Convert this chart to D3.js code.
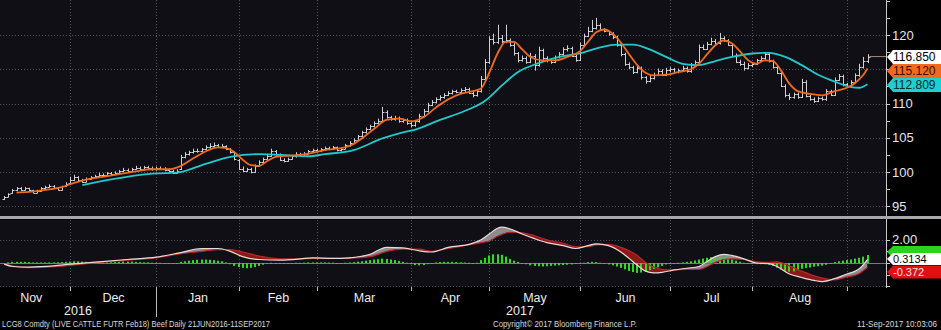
<!DOCTYPE html>
<html><head><meta charset="utf-8">
<script src="https://cdn.jsdelivr.net/npm/d3@7"></script>
<style>
html,body{margin:0;padding:0;background:#000;}
svg{display:block;}
text{font-family:"Liberation Sans",Arial,sans-serif;}
</style></head><body>
<svg id="c" width="941" height="330"></svg>
<script>
// ---------------- DATA ----------------
const startDate = "2016-11-08", endDate = "2017-09-11";
const holidays = ["2016-11-24","2016-12-26","2017-01-02","2017-01-16","2017-02-20","2017-04-14","2017-05-29","2017-07-04","2017-09-04"];
const monthNames = ["Jan","Feb","Mar","Apr","May","Jun","Jul","Aug","Sep","Oct","Nov","Dec"];

const opens = [
 96.1,96.4,96.9,97.3,97.6,97.4,97.6,97.3,97.0,97.2,97.6,97.8,98.0,97.6,97.4,97.9,
 98.4,98.9,99.3,98.8,98.6,99.0,99.2,99.4,99.6,99.5,99.8,99.7,99.9,100.1,100.3,100.2,100.4,100.6,100.5,100.7,100.6,
 100.4,100.6,100.5,100.3,100.1,99.9,100.4,102.2,102.6,102.9,103.1,103.0,103.3,103.6,103.8,103.9,103.7,103.8,103.4,102.9,
 101.8,100.5,100.2,100.4,100.0,100.9,101.5,101.9,102.3,103.0,102.6,101.8,101.6,101.9,102.3,102.6,102.4,102.7,103.0,
 103.2,103.1,103.3,103.5,103.4,103.6,103.2,103.4,103.9,104.3,104.7,105.2,105.8,106.3,106.7,107.2,107.5,108.8,108.0,107.7,107.9,107.4,107.6,
 107.1,106.8,107.4,108.2,108.9,109.8,110.2,110.6,110.9,111.3,111.5,111.8,111.7,111.9,112.1,111.6,111.2,111.8,113.6,
 116.0,119.4,119.0,119.6,119.1,119.2,118.6,117.3,116.4,116.7,116.1,117.0,115.6,117.8,116.6,116.3,116.1,116.8,117.2,117.9,118.1,117.0,
 116.4,118.6,119.9,120.6,121.0,121.4,120.9,120.6,120.2,119.7,118.6,117.2,115.8,115.3,114.6,115.2,113.8,113.3,113.7,114.2,114.8,114.2,
 114.9,115.0,114.6,114.9,115.2,114.7,115.6,116.0,118.3,118.0,118.7,119.1,118.8,119.5,119.2,118.6,117.0,116.1,115.8,115.2,
 115.6,115.8,116.3,116.6,117.2,116.2,115.3,114.5,112.6,111.2,110.9,111.4,111.0,113.2,111.1,110.7,110.4,110.8,110.6,111.8,111.3,113.5,114.0,
 112.8,112.6,113.1,114.1,115.4,116.2
];
const highs = [
 96.5,96.9,97.5,97.8,97.8,97.8,97.7,97.4,97.4,97.8,98.0,98.2,98.1,97.7,98.0,98.5,
 99.3,99.6,99.4,99.0,99.2,99.4,99.6,99.9,99.8,100.0,100.0,100.1,100.3,100.6,100.5,100.6,100.9,100.8,100.9,100.9,100.8,
 100.8,100.8,100.7,100.5,100.3,100.4,102.5,102.9,103.1,103.4,103.4,103.5,103.9,104.2,104.3,104.1,104.1,103.9,103.5,103.0,
 101.9,100.8,100.6,100.6,101.1,101.7,102.1,102.6,103.4,103.2,102.7,102.0,102.1,102.5,102.9,102.8,102.9,103.2,103.4,
 103.4,103.5,103.7,103.7,103.8,103.7,103.6,104.1,104.5,104.9,105.4,106.0,106.5,106.9,107.4,107.8,109.5,109.0,108.2,108.2,108.1,107.8,107.8,
 107.3,107.6,108.5,109.2,110.1,110.5,110.9,111.2,111.5,111.8,112.0,112.0,112.2,112.4,112.3,111.8,112.0,114.0,116.5,
 119.8,120.2,121.5,120.0,121.5,119.5,118.8,117.5,117.0,116.9,117.4,117.2,118.3,118.0,116.9,116.5,117.0,117.5,118.2,118.5,118.3,117.2,
 118.9,120.2,121.2,122.2,122.5,121.7,121.0,120.6,120.4,119.9,118.8,117.4,116.0,115.5,115.5,115.4,114.0,114.0,114.5,115.1,115.0,115.2,
 115.3,115.2,115.1,115.5,115.4,115.9,116.3,118.6,118.6,119.0,119.6,119.4,120.3,119.8,119.4,118.8,117.3,116.4,116.1,115.9,
 116.0,116.5,116.9,117.5,117.4,116.4,115.5,114.7,112.8,111.5,111.6,111.6,113.6,113.4,111.3,110.9,111.0,111.0,112.1,112.0,113.8,114.3,114.2,
 113.0,113.4,114.4,115.8,116.8,117.2
];
const lows = [
 95.9,96.3,96.8,97.2,97.2,97.3,97.2,96.9,96.9,97.1,97.5,97.7,97.5,97.3,97.3,97.8,
 98.3,98.7,98.6,98.4,98.5,98.9,99.1,99.3,99.3,99.4,99.5,99.6,99.8,100.0,100.0,100.1,100.3,100.3,100.4,100.4,100.2,
 100.2,100.3,100.1,99.9,99.7,99.8,100.3,102.0,102.4,102.7,102.8,102.8,103.1,103.4,103.6,103.5,103.5,103.2,102.7,101.7,
 100.3,100.0,100.0,99.8,99.9,100.8,101.3,101.8,102.2,102.4,101.6,101.4,101.5,101.8,102.1,102.2,102.3,102.6,102.8,
 102.9,102.9,103.1,103.2,103.2,103.0,103.0,103.3,103.7,104.1,104.5,105.0,105.6,106.1,106.5,107.0,107.3,107.8,107.5,107.5,107.2,107.2,106.9,
 106.5,106.6,107.2,108.0,108.7,109.6,110.0,110.4,110.7,111.1,111.3,111.5,111.5,111.7,111.4,110.9,111.0,111.6,113.4,
 115.8,118.6,118.7,118.8,118.8,118.3,117.0,116.0,116.1,115.8,115.9,114.8,115.4,116.3,116.0,115.8,115.9,116.6,117.0,117.6,116.8,116.1,
 116.2,118.4,119.7,120.4,120.8,120.6,120.4,119.9,119.4,118.3,116.9,115.5,115.0,114.3,114.4,113.5,112.9,113.1,113.5,114.0,114.0,114.0,
 114.6,114.3,114.4,114.7,114.5,114.5,115.4,115.9,117.8,117.8,118.5,118.6,118.6,119.0,118.4,116.8,115.9,115.5,114.8,115.0,
 115.3,115.6,116.1,116.4,116.0,115.1,114.3,112.4,110.9,110.5,110.7,110.7,110.8,110.9,110.4,110.1,110.2,110.4,110.4,111.1,111.1,113.3,112.5,
 112.3,112.4,112.9,113.9,115.1,115.9
];
const closes = [
 96.3,96.8,97.3,97.6,97.4,97.6,97.3,97.0,97.2,97.6,97.8,98.0,97.6,97.4,97.9,98.3,
 98.9,99.3,98.8,98.6,99.0,99.2,99.4,99.6,99.5,99.8,99.7,99.9,100.1,100.3,100.2,100.4,100.6,100.5,100.7,100.6,100.4,
 100.6,100.5,100.3,100.1,99.9,100.2,102.2,102.6,102.9,103.1,103.0,103.3,103.6,103.8,103.9,103.7,103.8,103.4,102.9,101.9,
 100.5,100.2,100.4,100.0,100.9,101.5,101.9,102.3,103.0,102.6,101.8,101.6,101.9,102.3,102.6,102.4,102.7,103.0,103.2,
 103.1,103.3,103.5,103.4,103.6,103.2,103.4,103.9,104.3,104.7,105.2,105.8,106.3,106.7,107.2,107.5,108.8,108.0,107.7,107.9,107.4,107.6,107.1,
 106.8,107.4,108.2,108.9,109.8,110.2,110.6,110.9,111.3,111.5,111.8,111.7,111.9,112.1,111.6,111.2,111.8,113.6,116.0,
 119.4,119.0,119.6,119.1,119.2,118.6,117.3,116.4,116.7,116.1,117.0,115.6,117.8,116.6,116.3,116.1,116.8,117.2,117.9,118.1,117.0,116.4,
 118.6,119.9,120.6,121.0,121.4,120.9,120.6,120.2,119.7,118.6,117.2,115.8,115.3,114.6,115.2,113.8,113.3,113.7,114.2,114.8,114.2,114.9,
 115.0,114.6,114.9,115.2,114.7,115.6,116.0,118.3,118.0,118.7,119.1,118.8,119.5,119.2,118.6,117.0,116.1,115.8,115.2,115.6,
 115.8,116.3,116.6,117.2,116.2,115.3,114.5,112.6,111.2,110.9,111.4,111.0,113.2,111.1,110.7,110.4,110.8,110.6,111.8,111.3,113.5,114.0,112.8,
 112.6,113.1,114.1,115.4,116.2,116.85
];

// Moving averages, read at sample bars (bar index)
const maFastIdx = [3,6,10,14,17,20,24,28,32,36,40,43,46,49,52,54,56,58,60,62,64,66,69,72,75,78,81,84,87,90,93,96,99,102,105,108,111,114,116,118,120,122,124,126,128,131,134,137,140,142,144,146,148,150,152,154,156,158,161,164,167,169,171,173,175,177,179,181,183,185,187,189,191,193,196,199,202,205,207,209,210];
const maFastVal = [97.0,97.1,97.4,97.8,98.4,98.9,99.3,99.7,100.1,100.4,100.4,100.9,102.0,103.0,103.6,103.5,102.9,101.8,101.0,100.9,101.6,102.2,102.4,102.5,102.8,103.2,103.4,103.8,104.9,106.3,107.6,107.8,107.4,108.0,109.4,110.6,111.4,111.8,112.2,114.5,117.3,119.0,119.0,117.9,116.8,116.3,116.3,116.8,117.6,119.0,120.4,120.8,120.2,118.9,117.2,115.6,114.5,114.1,114.2,114.6,115.0,115.8,117.2,118.5,119.2,118.8,117.6,116.3,115.8,116.3,116.2,114.8,112.9,111.8,111.4,111.2,111.8,112.3,113.0,114.2,115.12];
const maSlowIdx = [19,37,42,49,55,62,70,74,78,85,92,97,100,106,112,117,121,125,130,135,140,145,149,153,157,161,165,169,173,177,182,186,190,194,198,202,206,208,210];
const maSlowVal = [98.1,99.8,99.9,101.2,102.2,102.6,102.4,102.3,102.6,103.2,104.9,105.8,106.2,107.6,108.9,110.4,112.6,114.6,115.9,116.8,117.3,118.2,118.6,118.6,117.9,116.8,115.8,115.6,116.2,116.8,117.3,117.4,116.8,115.6,114.2,113.2,112.4,112.3,112.809];

// MACD panel
const macdIdx = [0,2,6,12,16,23,30,37,43,48,52,55,58,62,67,72,75,80,84,89,93,97,101,104,108,113,116,118,120,121,123,126,129,132,136,139,142,144,147,150,152,154,156,158,160,163,166,169,171,173,175,177,180,183,186,188,191,194,197,199,202,205,207,208,209,210];
const macdVal = [-0.1,-0.3,-0.35,-0.25,-0.1,0.1,0.3,0.5,0.9,1.25,1.25,1.0,0.55,0.3,0.25,0.35,0.45,0.4,0.45,0.75,1.35,1.3,1.05,0.95,1.35,1.6,2.0,2.5,3.0,3.1,2.95,2.5,2.1,1.75,1.5,1.25,1.5,1.65,1.5,0.95,0.4,-0.2,-0.7,-0.85,-0.8,-0.6,-0.45,-0.3,0.15,0.55,0.75,0.65,0.35,0.0,-0.05,-0.3,-0.95,-1.25,-1.5,-1.6,-1.35,-0.95,-0.7,-0.5,-0.15,0.3134];
const signalVal = [-0.05,-0.25,-0.4,-0.32,-0.2,0.05,0.25,0.45,0.8,1.0,1.15,1.15,0.95,0.6,0.35,0.35,0.4,0.4,0.42,0.55,1.0,1.2,1.2,1.0,1.25,1.55,1.75,1.9,2.3,2.45,2.65,2.6,2.35,2.0,1.7,1.4,1.4,1.55,1.6,1.35,1.05,0.65,0.05,-0.35,-0.55,-0.6,-0.55,-0.55,-0.3,0.05,0.3,0.35,0.3,0.1,0.05,0.1,-0.25,-0.7,-1.1,-1.3,-1.45,-1.2,-1.05,-0.9,-0.65,-0.372];
const histVal = [
 0.0,0.05,0.1,0.1,0.1,0.1,0.08,0.05,0.05,0.05,0.05,0.05,0.05,0.06,0.08,0.1,
 0.12,0.15,0.15,0.12,0.1,0.08,0.06,0.05,0.05,0.05,0.06,0.08,0.1,0.12,0.12,0.12,0.1,0.08,0.06,0.05,0.03,
 0.02,0.01,0.0,-0.02,-0.03,0.0,0.1,0.15,0.2,0.25,0.28,0.3,0.3,0.28,0.25,0.2,0.15,0.05,-0.1,-0.25,
 -0.35,-0.42,-0.45,-0.42,-0.35,-0.25,-0.15,-0.05,0.02,0.0,-0.05,-0.05,-0.03,0.0,0.02,0.02,0.03,0.05,0.05,
 0.05,0.05,0.05,0.04,0.03,0.0,0.0,0.02,0.05,0.08,0.12,0.15,0.2,0.25,0.3,0.33,0.38,0.35,0.3,0.25,0.18,0.1,0.02,
 -0.1,-0.18,-0.2,-0.18,-0.1,-0.02,0.05,0.08,0.1,0.1,0.1,0.08,0.06,0.04,0.02,0.0,0.02,0.25,0.45,
 0.65,0.75,0.75,0.7,0.55,0.35,0.2,0.1,0.0,-0.1,-0.2,-0.25,-0.28,-0.3,-0.28,-0.25,-0.22,-0.2,-0.18,-0.15,-0.12,-0.08,
 -0.05,0.02,0.08,0.1,0.08,0.02,-0.05,-0.12,-0.2,-0.3,-0.42,-0.55,-0.68,-0.78,-0.85,-0.82,-0.75,-0.62,-0.5,-0.38,-0.25,-0.12,
 -0.05,0.0,0.02,0.05,0.1,0.15,0.22,0.3,0.38,0.45,0.5,0.52,0.5,0.45,0.38,0.3,0.2,0.1,0.02,-0.05,
 -0.08,-0.1,-0.1,-0.1,-0.15,-0.25,-0.4,-0.55,-0.68,-0.75,-0.72,-0.62,-0.5,-0.42,-0.38,-0.32,-0.28,-0.22,-0.15,-0.05,0.08,0.15,0.2,
 0.25,0.3,0.38,0.45,0.55,0.69
];

const priceTicks = [95,100,105,110,115,120];
const priceMinorTicks = [95,97.5,100,102.5,105,107.5,110,112.5,115,117.5,120,122.5,125];
const macdTicks = [-2,-1,0,1,2];
const macdLabelTicks = [2];

const lastLabels = {close:"116.850", fast:"115.120", slow:"112.809", macd:"0.3134", signal:"-0.372"};

// --------------- DRAW ----------------
const svg = d3.select("#c");
const axisX = 886;
const topPanel = {y0:0, y1:216};
const botPanel = {y0:220, y1:287};

// trading dates
const parse = d3.timeParse("%Y-%m-%d"), fmt = d3.timeFormat("%Y-%m-%d");
const dates = [];
for (let d = parse(startDate); d <= parse(endDate); d = d3.timeDay.offset(d,1)) {
  const wd = d.getDay();
  if (wd===0||wd===6) continue;
  if (holidays.includes(fmt(d))) continue;
  dates.push(d);
}
const N = closes.length;

const x = d3.scaleLinear().domain([0, N-1]).range([4.2, 867.5]);
const y = d3.scaleLinear().domain([95,120]).range([206.25,35]);
const yM = d3.scaleLinear().domain([-2,2]).range([286.2,239.8]);

// backgrounds
svg.append("rect").attr("x",0).attr("y",0).attr("width",941).attr("height",330).attr("fill","#000");
svg.append("rect").attr("x",0).attr("y",topPanel.y0).attr("width",axisX).attr("height",topPanel.y1-topPanel.y0).attr("fill","#0f0f15");
svg.append("rect").attr("x",0).attr("y",botPanel.y0).attr("width",axisX).attr("height",botPanel.y1-botPanel.y0).attr("fill","#0f0f15");

const defs = svg.append("defs");
defs.append("clipPath").attr("id","clipTop").append("rect").attr("x",0).attr("y",0).attr("width",axisX).attr("height",topPanel.y1);
defs.append("clipPath").attr("id","clipBot").append("rect").attr("x",0).attr("y",botPanel.y0).attr("width",axisX).attr("height",botPanel.y1-botPanel.y0);

// month boundaries
const monthStarts = [];
dates.forEach((d,i)=>{ if(i>0 && d.getMonth()!==dates[i-1].getMonth()) monthStarts.push(i); });
const gx = i => Math.round(x(i))+0.5;

// gridlines
const grid = svg.append("g").attr("stroke","#55555c").attr("stroke-width",1).attr("stroke-dasharray","1,2");
priceTicks.forEach(v=>{
  grid.append("line").attr("x1",0).attr("x2",axisX).attr("y1",Math.round(y(v))+0.5).attr("y2",Math.round(y(v))+0.5);
});
monthStarts.forEach(i=>{
  grid.append("line").attr("x1",gx(i)).attr("x2",gx(i)).attr("y1",topPanel.y0).attr("y2",topPanel.y1);
  grid.append("line").attr("x1",gx(i)).attr("x2",gx(i)).attr("y1",botPanel.y0).attr("y2",botPanel.y1);
});
[2,-2].forEach(v=>{
  grid.append("line").attr("x1",0).attr("x2",axisX).attr("y1",Math.round(yM(v))+0.5).attr("y2",Math.round(yM(v))+0.5);
});

// price bars
const topG = svg.append("g").attr("clip-path","url(#clipTop)");
const bars = topG.append("g").attr("stroke","#cfcfd4").attr("stroke-width",1).attr("fill","none");
closes.forEach((c,i)=>{
  const cx = Math.round(x(i))+0.5;
  bars.append("path").attr("d",
    `M${cx},${y(highs[i])}V${y(lows[i])}M${cx-2},${Math.round(y(opens[i]))+0.5}H${cx}M${cx},${Math.round(y(c))+0.5}H${cx+2}`);
});

// moving averages
const maLine = d3.line().x(d=>x(d[0])).y(d=>y(d[1])).curve(d3.curveMonotoneX);
topG.append("path").datum(maSlowIdx.map((k,j)=>[k,maSlowVal[j]]))
  .attr("d",maLine).attr("fill","none").attr("stroke","#1fc9cc").attr("stroke-width",1.8);
topG.append("path").datum(maFastIdx.map((k,j)=>[k,maFastVal[j]]))
  .attr("d",maLine).attr("fill","none").attr("stroke","#f26a1b").attr("stroke-width",1.8);

// last close line to axis
topG.append("line").attr("x1",x(N-1)+2).attr("x2",axisX).attr("y1",y(closes[N-1])).attr("y2",y(closes[N-1]))
  .attr("stroke","#a78b78").attr("stroke-width",1);

// MACD panel
const botG = svg.append("g").attr("clip-path","url(#clipBot)");
const mPts = macdIdx.map((k,j)=>({i:k, m:macdVal[j], s:signalVal[j]}));
const curve = d3.curveMonotoneX;
defs.append("clipPath").attr("id","aboveSig").append("path")
  .attr("d", d3.area().x(d=>x(d.i)).y0(botPanel.y0-5).y1(d=>yM(d.s)).curve(curve)(mPts));
defs.append("clipPath").attr("id","belowSig").append("path")
  .attr("d", d3.area().x(d=>x(d.i)).y0(botPanel.y1+5).y1(d=>yM(d.s)).curve(curve)(mPts));
const band = d3.area().x(d=>x(d.i)).y0(d=>yM(d.s)).y1(d=>yM(d.m)).curve(curve);
botG.append("g").attr("clip-path","url(#aboveSig)").append("path").datum(mPts).attr("d",band).attr("fill","#8c8c90");
botG.append("g").attr("clip-path","url(#belowSig)").append("path").datum(mPts).attr("d",band).attr("fill","#8e1717");

// zero line
botG.append("line").attr("x1",0).attr("x2",axisX).attr("y1",Math.round(yM(0))+0.5).attr("y2",Math.round(yM(0))+0.5)
  .attr("stroke","#77777c").attr("stroke-width",1);

// histogram
botG.append("g").selectAll("rect").data(histVal).join("rect")
  .attr("x",(d,i)=>Math.round(x(i))-1)
  .attr("width",2)
  .attr("y",d=>Math.min(yM(d),yM(0)))
  .attr("height",d=>Math.max(0.8,Math.abs(yM(d)-yM(0))))
  .attr("fill","#2bdc1f");

// macd + signal lines
botG.append("path").datum(mPts).attr("d",d3.line().x(d=>x(d.i)).y(d=>yM(d.s)).curve(curve))
  .attr("fill","none").attr("stroke","#b8262a").attr("stroke-width",1.2);
botG.append("path").datum(mPts).attr("d",d3.line().x(d=>x(d.i)).y(d=>yM(d.m)).curve(curve))
  .attr("fill","none").attr("stroke","#eadada").attr("stroke-width",1.2);

// separator band
svg.append("rect").attr("x",0).attr("y",216).attr("width",941).attr("height",3).attr("fill","#a9a9ad");

// value tag positions (they cover any axis label beneath them)
const tagSpans = [[50,92]];

// right axis
const ax = svg.append("g").attr("stroke","#c8c8c8").attr("stroke-width",1);
ax.append("line").attr("x1",axisX+0.5).attr("x2",axisX+0.5).attr("y1",0).attr("y2",216);
ax.append("line").attr("x1",axisX+0.5).attr("x2",axisX+0.5).attr("y1",219).attr("y2",botPanel.y1+1);
priceMinorTicks.forEach(v=>{
  const yy = Math.round(y(v))+0.5;
  if (yy<0||yy>215) return;
  ax.append("line").attr("x1",axisX).attr("x2",axisX+4).attr("y1",yy).attr("y2",yy);
});
macdTicks.forEach(v=>{
  const yy = Math.round(yM(v))+0.5;
  ax.append("line").attr("x1",axisX).attr("x2",axisX+4).attr("y1",yy).attr("y2",yy);
});
const axLab = svg.append("g").attr("fill","#e6e6e6").attr("font-size","13px");
priceTicks.forEach(v=>{
  const yy = y(v);
  if (tagSpans.some(s=>yy>s[0]-4 && yy<s[1]+4)) return; // hidden under value tags
  axLab.append("text").attr("x",892).attr("y",yy).attr("dy","0.36em").text(v);
});
macdLabelTicks.forEach(v=>{
  axLab.append("text").attr("x",892).attr("y",yM(v)).attr("dy","0.36em").text(d3.format(".2f")(v));
});

// value tags
function tag(cy, fill, txt, txtFill, h, fs){
  const x0 = 887, hh = h/2;
  const g = svg.append("g");
  g.append("path").attr("d",`M${x0},${cy}L${x0+6},${cy-hh}H941V${cy+hh}H${x0+6}Z`).attr("fill",fill);
  if (txt) g.append("text").attr("x",893).attr("y",cy).attr("dy","0.36em").attr("font-size",fs+"px").attr("fill",txtFill).text(txt);
}
tag(85, "#1ccfd2", lastLabels.slow, "#0a2a2a", 14, 12);
tag(71, "#f26a1b", lastLabels.fast, "#3a0e00", 14, 12);
tag(57, "#ffffff", lastLabels.close, "#000", 14, 12);
tag(252, "#27d61c", "", "#000", 12, 11);
tag(272, "#e01010", lastLabels.signal, "#ffe6e6", 13, 11);
tag(259, "#ffffff", lastLabels.macd, "#000", 12, 11);

// x axis: ticks and month labels
const xa = svg.append("g");
monthStarts.forEach(i=>{
  xa.append("line").attr("x1",gx(i)).attr("x2",gx(i)).attr("y1",287).attr("y2",291).attr("stroke","#bbb");
});
const bounds = [0, ...monthStarts];
const mLab = svg.append("g").attr("fill","#ececec").attr("font-size","12.5px").attr("text-anchor","middle");
for (let k=0;k<bounds.length-1;k++){
  const a = k===0 ? 0 : gx(bounds[k]);
  const b = gx(bounds[k+1]);
  mLab.append("text").attr("x",(a+b)/2 - (k===0?4:0)).attr("y",302).text(monthNames[dates[bounds[k]].getMonth()]);
}
// year labels
const yearBreak = monthStarts.find(i=>dates[i].getFullYear()!==dates[i-1].getFullYear());
mLab.append("text").attr("x",78).attr("y",315).text(dates[0].getFullYear());
mLab.append("text").attr("x",520).attr("y",315).text(dates[yearBreak].getFullYear());
svg.append("line").attr("x1",gx(yearBreak)).attr("x2",gx(yearBreak)).attr("y1",291).attr("y2",317).attr("stroke","#bbb");

// footer
const foot = svg.append("g").attr("fill","#d8d8d8").attr("font-size","8.5px");
foot.append("text").attr("x",2).attr("y",327).attr("textLength",268).attr("lengthAdjust","spacingAndGlyphs")
  .text("LCG8 Comdty (LIVE CATTLE FUTR  Feb18) Beef  Daily 21JUN2016-11SEP2017");
foot.append("text").attr("x",493).attr("y",327).attr("textLength",144).attr("lengthAdjust","spacingAndGlyphs")
  .text("Copyright© 2017 Bloomberg Finance L.P.");
foot.append("text").attr("x",857).attr("y",327).attr("textLength",80).attr("lengthAdjust","spacingAndGlyphs")
  .text("11-Sep-2017 10:03:06");

if (dates.length !== N) {
  svg.append("text").attr("x",300).attr("y",20).attr("fill","red").text("date count "+dates.length+" vs "+N);
}
</script></body></html>
